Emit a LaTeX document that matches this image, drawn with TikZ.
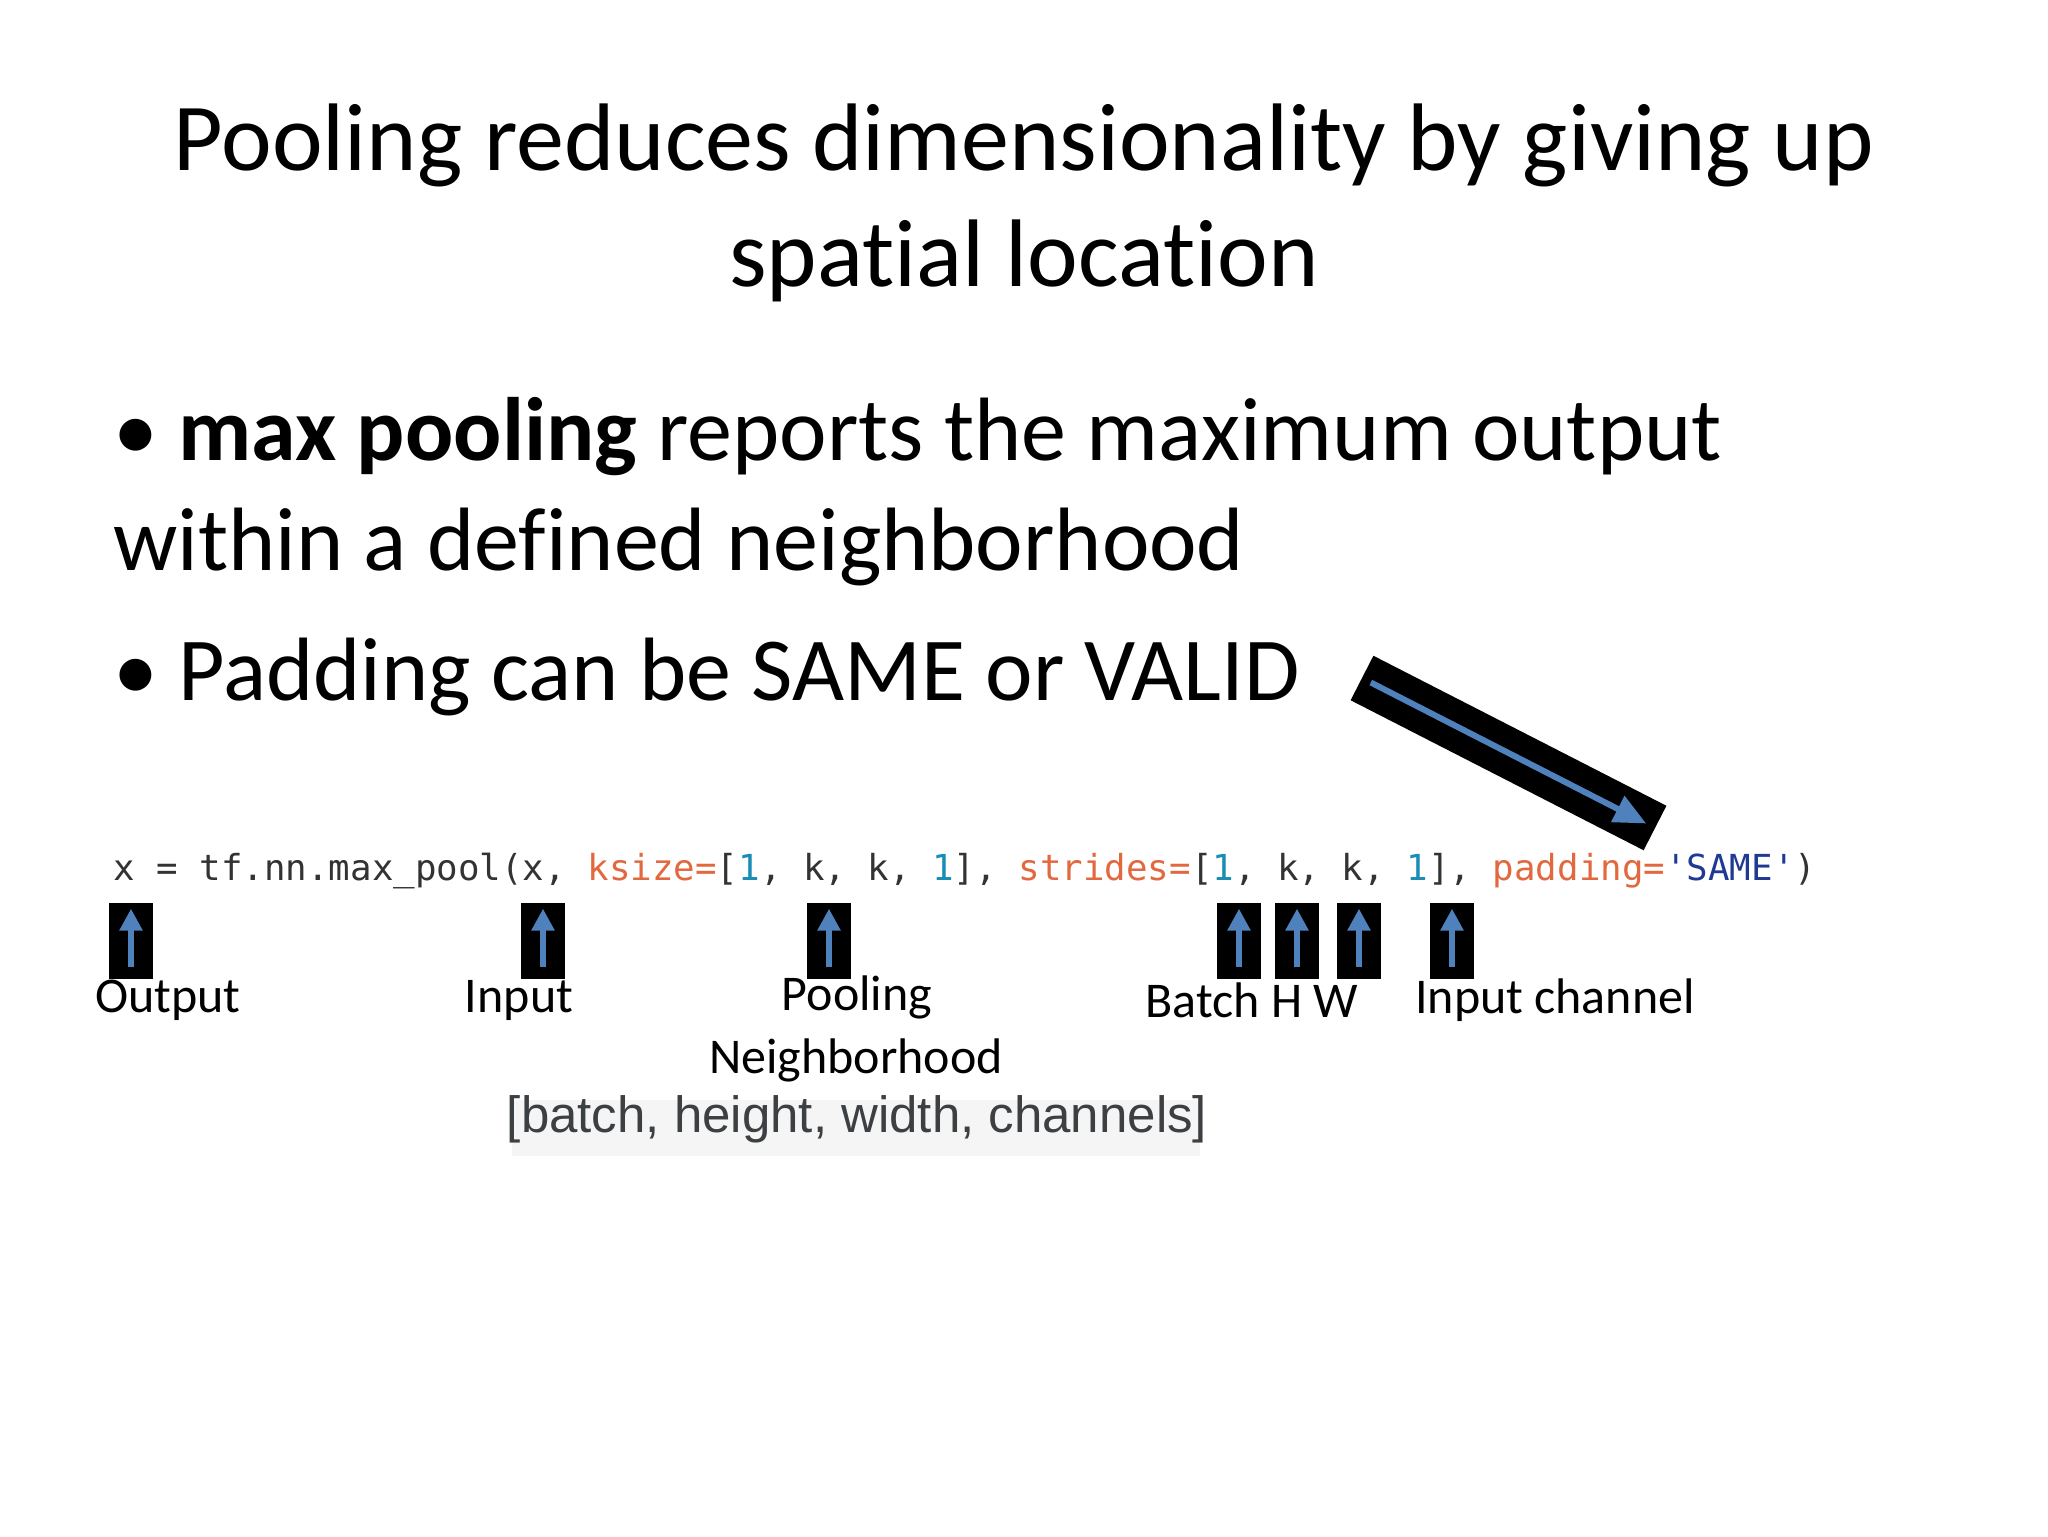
\documentclass[tikz,border=0pt]{standalone}
\usepackage{fontspec}
\setmainfont{Carlito}[Ligatures=NoCommon]
\newfontfamily\codefont{DejaVu Sans Mono}
\newfontfamily\arialfont{Liberation Sans}
\usetikzlibrary{arrows.meta,calc}
\definecolor{kw}{HTML}{E2693F}
\definecolor{num}{HTML}{1A8DB5}
\definecolor{str}{HTML}{1F3A93}
\definecolor{txt}{HTML}{333333}
\definecolor{arr}{HTML}{4F81BD}
\definecolor{graytxt}{HTML}{3C4043}
\begin{document}
\begin{tikzpicture}[x=0.5pt,y=-0.5pt,
  upbox/.style={fill=black,minimum width=22pt,minimum height=38pt,inner sep=0pt},
  lbl/.style={font=\fontsize{25}{30}\selectfont,inner sep=0pt},
  big/.style={font=\fontsize{45}{54}\selectfont,inner sep=0pt,anchor=base west}]
\useasboundingbox (0,0) rectangle (2048,1536);
\node[font=\fontsize{48}{58}\selectfont,align=center,inner sep=0pt] (title) at (1024,203) {Pooling reduces dimensionality by giving up\\spatial location};
\node[big] (b1) at (113,460) {\textbullet\ \textbf{max pooling} reports the maximum output};
\node[big] (b2) at (113,570) {within a defined neighborhood};
\node[big] (b3) at (113,700) {\textbullet\ Padding can be SAME or VALID};
% big arrow
\coordinate (bs) at (1362,678);
\coordinate (be) at (1655,828);
\draw[line width=25pt] (bs) -- (be);
\draw[arr,line width=3pt,-{Triangle[length=16pt,width=14pt]}] ($(bs)!0.03!(be)$) -- ($(be)!0.03!(bs)$);
% code
\node[font=\codefont\fontsize{17.9}{22}\selectfont,anchor=base west,inner sep=0pt,text=txt] (code) at (113,880)
{x = tf.nn.max\_pool(x, \textcolor{kw}{ksize=}[\textcolor{num}{1}, k, k, \textcolor{num}{1}], \textcolor{kw}{strides=}[\textcolor{num}{1}, k, k, \textcolor{num}{1}], \textcolor{kw}{padding=}\textcolor{str}{'SAME'})};
% boxes
\foreach \n/\x in {o/131,i/543,p/829,bb/1239,h/1297,w/1359,c/1452}{
  \node[upbox] (\n) at (\x,941) {};
  \draw[arr,line width=3pt,-{Triangle[length=11pt,width=11pt]}] ($(\n.south)+(0,-12)$) -- ($(\n.north)+(0,6)$);
}
\node[lbl] (lo) at (168,1000) {Output};
\node[lbl] (li) at (519,1000) {Input};
\node[lbl] (lp) at (857,997) {Pooling};
\node[lbl] (ln) at (856,1060) {Neighborhood};
\node[lbl] (lb) at (1252,1000) {Batch H W};
\node[lbl] (lc) at (1555,1000) {Input channel};
\fill[gray!8] (512,1100) rectangle (1200,1156);
\node[font=\arialfont\fontsize{25.5}{30}\selectfont,text=graytxt,inner sep=0pt] (shape) at (857,1119) {[batch, height, width, channels]};
\end{tikzpicture}
\end{document}
